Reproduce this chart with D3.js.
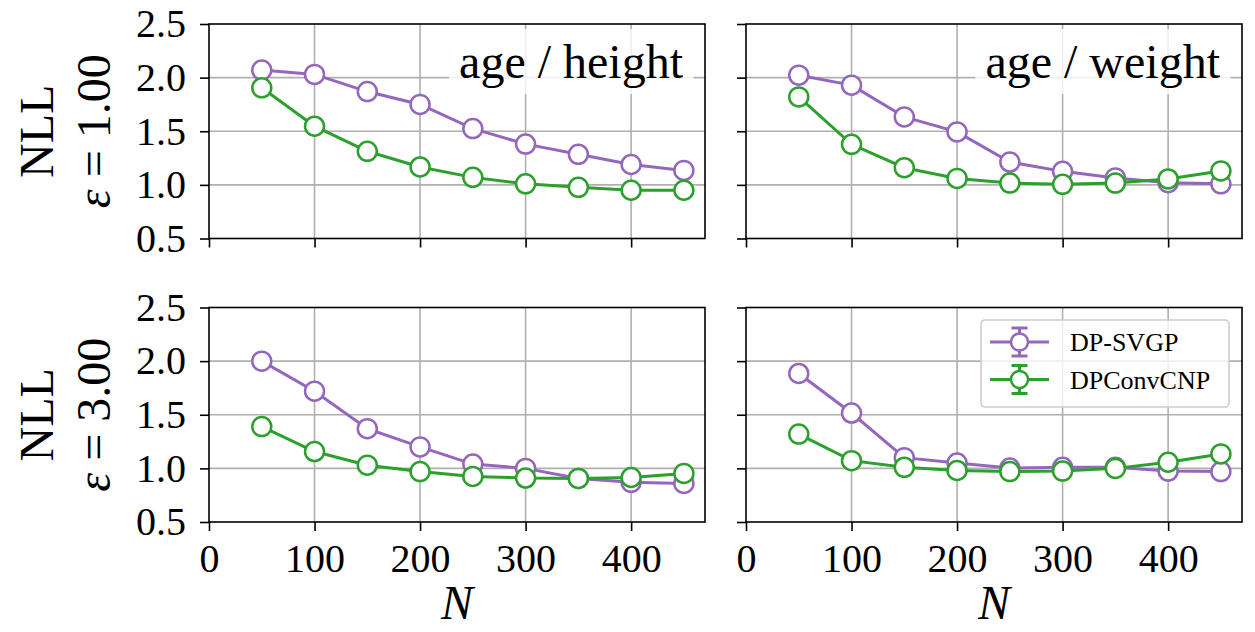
<!DOCTYPE html>
<html lang="en">
<head>
<meta charset="utf-8">
<script src="https://d3js.org/d3.v7.min.js"></script>
<style>
  body { margin: 0; background: #fff; }
  svg { font-family: "Liberation Serif", "DejaVu Serif", serif; }
</style>
</head>
<body>
<script>
// data
const nValues = [50, 100, 150, 200, 250, 300, 350, 400, 450];
const svgpHeightEps1 = [2.07, 2.03, 1.87, 1.75, 1.525, 1.38, 1.285, 1.19, 1.135];
const convHeightEps1 = [1.905, 1.547, 1.313, 1.167, 1.07, 1.01, 0.977, 0.95, 0.95];
const svgpWeightEps1 = [2.023, 1.93, 1.634, 1.494, 1.213, 1.126, 1.065, 1.02, 1.01];
const convWeightEps1 = [1.82, 1.378, 1.16, 1.06, 1.017, 1.005, 1.017, 1.055, 1.13];
const svgpHeightEps3 = [2.0, 1.72, 1.37, 1.2, 1.04, 1.0, 0.906, 0.87, 0.86];
const convHeightEps3 = [1.39, 1.157, 1.03, 0.97, 0.925, 0.91, 0.906, 0.915, 0.953];
const svgpWeightEps3 = [1.885, 1.516, 1.10, 1.05, 1.003, 1.01, 1.01, 0.975, 0.97];
const convWeightEps3 = [1.32, 1.072, 1.01, 0.98, 0.97, 0.975, 1.0, 1.057, 1.135];

const xTicks = [0, 100, 200, 300, 400];
const yTicks = [0.5, 1.0, 1.5, 2.0, 2.5];
const seriesNames = ["DP-SVGP", "DPConvCNP"];
const colors = ["#9467bd", "#2ca02c"];
const panelTitles = ["age / height", "age / weight"];
const epsLabels = ["1.00", "3.00"];

const W = 1255, H = 632;
const colX = [209, 746], panelW = 496;
const rowY = [24, 307.5], panelH = 214.5;

const svg = d3.select("body").append("svg")
  .attr("width", W).attr("height", H);
svg.append("rect").attr("width", W).attr("height", H).attr("fill", "#fff");

const x = d3.scaleLinear().domain([0, 470]).range([0, panelW]);
const y = d3.scaleLinear().domain([0.5, 2.5]).range([panelH, 0]);

const panels = [
  { row: 0, col: 0, series: [svgpHeightEps1, convHeightEps1] },
  { row: 0, col: 1, series: [svgpWeightEps1, convWeightEps1] },
  { row: 1, col: 0, series: [svgpHeightEps3, convHeightEps3] },
  { row: 1, col: 1, series: [svgpWeightEps3, convWeightEps3] }
];

panels.forEach(p => {
  const g = svg.append("g")
    .attr("transform", `translate(${colX[p.col]},${rowY[p.row]})`);

  // grid
  g.selectAll(".vgrid").data(xTicks.filter(d => d > 0)).enter().append("line")
    .attr("x1", d => x(d)).attr("x2", d => x(d))
    .attr("y1", 0).attr("y2", panelH)
    .attr("stroke", "#b0b0b0").attr("stroke-width", 1.6);
  g.selectAll(".hgrid").data(yTicks.slice(1, -1)).enter().append("line")
    .attr("x1", 0).attr("x2", panelW)
    .attr("y1", d => y(d)).attr("y2", d => y(d))
    .attr("stroke", "#b0b0b0").attr("stroke-width", 1.6);

  // title box in the top row
  if (p.row === 0) {
    const t = g.append("text")
      .attr("x", 474)
      .attr("y", 54)
      .attr("text-anchor", "end")
      .attr("font-size", 48)
      .text(panelTitles[p.col]);
    const bb = t.node().getBBox();
    g.insert("rect", "text")
      .attr("x", bb.x - 10).attr("y", bb.y - 6)
      .attr("width", bb.width + 20).attr("height", bb.height + 12)
      .attr("fill", "#fff").attr("fill-opacity", 0.8);
  }

  // series
  const line = d3.line().x((d, i) => x(nValues[i])).y(d => y(d));
  p.series.forEach((vals, k) => {
    g.append("path").datum(vals)
      .attr("d", line)
      .attr("fill", "none")
      .attr("stroke", colors[k])
      .attr("stroke-width", 3);
    g.selectAll(".m" + k).data(vals).enter().append("circle")
      .attr("cx", (d, i) => x(nValues[i]))
      .attr("cy", d => y(d))
      .attr("r", 9.5)
      .attr("fill", "#fff")
      .attr("stroke", colors[k])
      .attr("stroke-width", 2.5);
  });

  // axes
  const ya = d3.axisLeft(y).tickValues(yTicks).tickSize(9).tickPadding(14).tickSizeOuter(0)
    .tickFormat(d => p.col === 0 ? d3.format(".1f")(d) : "");
  const yg = g.append("g").call(ya);
  const xa = d3.axisBottom(x).tickValues(xTicks).tickSize(9).tickPadding(13).tickSizeOuter(0)
    .tickFormat(d => p.row === 1 ? d : "");
  const xg = g.append("g").attr("transform", `translate(0,${panelH})`).call(xa);
  [yg, xg].forEach(a => {
    a.select(".domain").remove();
    a.selectAll(".tick line").attr("stroke", "#000").attr("stroke-width", 1.6);
    a.selectAll("text").attr("font-size", 40).attr("fill", "#000")
      .attr("font-family", "Liberation Serif, serif");
  });

  // spines
  g.append("rect")
    .attr("width", panelW).attr("height", panelH)
    .attr("fill", "none").attr("stroke", "#000").attr("stroke-width", 1.6);

  // row label
  if (p.col === 0) {
    const cy = rowY[p.row] + panelH / 2;
    const lab = svg.append("text")
      .attr("transform", `translate(0,${cy}) rotate(-90)`)
      .attr("text-anchor", "middle")
      .attr("font-size", 48);
    lab.append("tspan").attr("x", 0).attr("y", 53).text("NLL");
    lab.append("tspan").attr("x", 0).attr("y", 110)
      .html(`<tspan font-style="italic">ε</tspan> = ${epsLabels[p.row]}`);
  }

  if (p.row === 1) {
    svg.append("text")
      .attr("x", colX[p.col] + panelW / 2)
      .attr("y", 619)
      .attr("text-anchor", "middle")
      .attr("font-size", 48)
      .attr("font-style", "italic")
      .text("N");
  }

  // legend in bottom right
  if (p.row === 1 && p.col === 1) {
    const lg = svg.append("g").attr("transform", "translate(981,320)");
    lg.append("rect")
      .attr("width", 248).attr("height", 87).attr("rx", 4)
      .attr("fill", "#fff").attr("fill-opacity", 0.8)
      .attr("stroke", "#cccccc").attr("stroke-width", 1.6);
    seriesNames.forEach((name, k) => {
      const ry = 22 + k * 37.5;
      const c = colors[k];
      lg.append("line").attr("x1", 9).attr("x2", 68).attr("y1", ry).attr("y2", ry)
        .attr("stroke", c).attr("stroke-width", 3);
      lg.append("line").attr("x1", 38.5).attr("x2", 38.5).attr("y1", ry - 14).attr("y2", ry + 14)
        .attr("stroke", c).attr("stroke-width", 3);
      [-14, 14].forEach(o => lg.append("line")
        .attr("x1", 30.5).attr("x2", 46.5).attr("y1", ry + o).attr("y2", ry + o)
        .attr("stroke", c).attr("stroke-width", 3));
      lg.append("circle").attr("cx", 38.5).attr("cy", ry).attr("r", 8.5)
        .attr("fill", "#fff").attr("stroke", c).attr("stroke-width", 2.5);
      lg.append("text").attr("x", 89).attr("y", ry + 9)
        .attr("font-size", 26).text(name);
    });
  }
});
</script>
</body>
</html>
